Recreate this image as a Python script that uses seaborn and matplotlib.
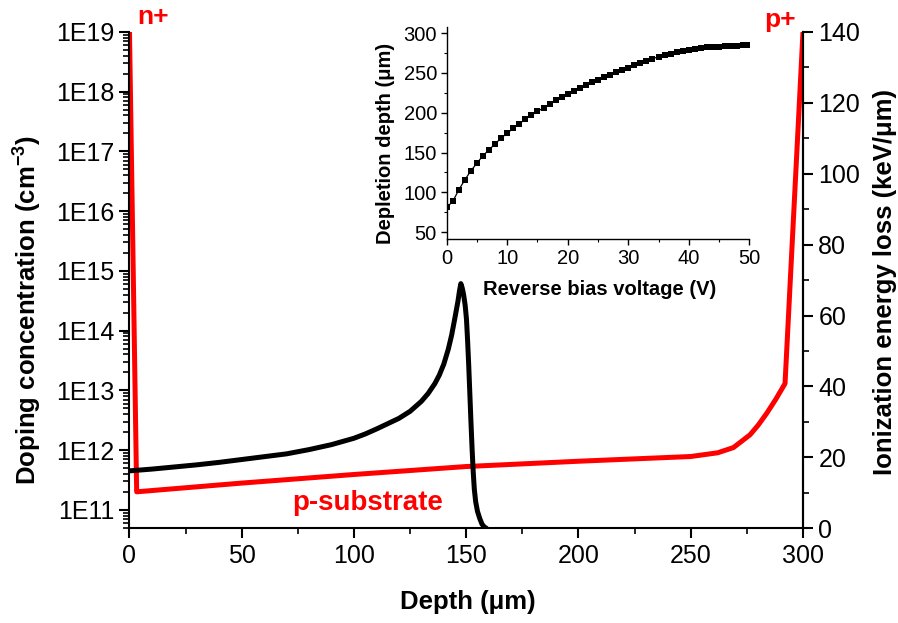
import numpy as np
import pandas as pd
import matplotlib
matplotlib.use("Agg")
import matplotlib.pyplot as plt
import seaborn as sns
from matplotlib.ticker import FixedLocator, MultipleLocator, FuncFormatter, NullFormatter

# ------------------------------------------------------------
# DATA
# ------------------------------------------------------------

# doping profile (red, left log axis)
doping_depth = [0, 3.2, 50, 100, 150, 200, 250, 262, 269, 276.4, 280, 283.8, 288, 292, 300]
doping_conc = [1e19, 2.0e11, 2.8e11, 3.9e11, 5.3e11, 6.5e11, 7.8e11, 9.0e11, 1.1e12,
               1.8e12, 2.6e12, 4.1e12, 7.2e12, 1.3e13, 1e19]

# ionization energy loss / Bragg curve (black, right axis)
loss_depth = [0, 10, 20, 30, 40, 50, 60, 70, 80, 90, 100, 105, 110, 115, 120, 125,
              130, 133, 136, 138, 140, 142, 143.5, 145, 146.3, 147, 147.6,
              148.2, 148.8, 149.5, 150.1, 150.6, 151.1, 151.6, 152.1, 152.6, 153.1,
              153.6, 154.2, 155, 156, 157, 158, 159]
loss_value = [16.2, 16.7, 17.3, 17.9, 18.6, 19.4, 20.2, 21.0, 22.2, 23.6, 25.4, 26.6,
              28.0, 29.5, 31.0, 33.0, 35.8, 38.0, 40.8, 43.2, 46.3, 50.5, 54.5, 59.5,
              64.0, 67.0, 69.0,
              67.8, 66.0, 63.0, 59.0, 53.0, 46.0, 38.0, 30.0, 22.5, 16.0,
              11.0, 7.5, 4.8, 2.8, 1.2, 0.4, 0]

# inset: depletion depth vs reverse bias voltage
bias_voltage = list(range(0, 51))
depletion_depth = [81, 88.5, 103, 115.7, 127, 136.7, 146, 153.4, 161, 168,
                   174.4, 180.2, 186, 192, 196.6, 201.6, 206.2, 210.8, 215.4, 219.6,
                   223.8, 227.1, 230.9, 234.7, 238, 241.4, 244.3, 247.7, 250.6, 253.5,
                   256.4, 259.4, 262.3, 264.8, 267.8, 270.3, 272.4, 274, 276.1, 277.8,
                   279.1, 279.9, 281.2, 282, 282.4, 282.8, 283.3, 283.7, 284.1, 284.5,
                   284.9]

doping_df = pd.DataFrame({"depth": doping_depth, "conc": doping_conc})
loss_df = pd.DataFrame({"depth": loss_depth, "loss": loss_value})
inset_df = pd.DataFrame({"V": bias_voltage, "W": depletion_depth})

# ------------------------------------------------------------
# STYLE
# ------------------------------------------------------------

sns.set_style("ticks")
plt.rcParams["font.family"] = ["Liberation Sans", "DejaVu Sans"]
plt.rcParams["mathtext.fontset"] = "custom"
plt.rcParams["mathtext.rm"] = "Liberation Sans"
plt.rcParams["mathtext.bf"] = "Liberation Sans:bold"
for key in ("text.color", "axes.labelcolor", "xtick.color", "ytick.color", "axes.edgecolor"):
    plt.rcParams[key] = "black"

RED = "#ff0000"

fig = plt.figure(figsize=(8.98, 6.23), dpi=100)
ax = fig.add_axes([0.1442, 0.152, 0.75, 0.7968])

decades = [10.0 ** e for e in range(11, 20)]
minor_log = [m * 10.0 ** e for e in range(10, 19) for m in range(2, 10)]

# red doping profile on the log axis
sns.lineplot(data=doping_df, x="depth", y="conc", ax=ax, color=RED,
             linewidth=3.6, sort=False, estimator=None)
ax.set_yscale("log")
ax.set_xlim(0, 300)
ax.set_ylim(4.9e10, 1e19)
ax.xaxis.set_major_locator(MultipleLocator(50))
ax.xaxis.set_minor_locator(MultipleLocator(25))
ax.yaxis.set_major_locator(FixedLocator(decades))
ax.yaxis.set_minor_locator(FixedLocator(minor_log))
ax.yaxis.set_minor_formatter(NullFormatter())
ax.yaxis.set_major_formatter(FuncFormatter(lambda v, p: f"1E{int(round(np.log10(v)))}"))

# black energy loss curve on the twin axis
ax2 = ax.twinx()
sns.lineplot(data=loss_df, x="depth", y="loss", ax=ax2, color="black",
             linewidth=3.6, sort=False, estimator=None)
ax2.set_ylim(0, 140)
ax2.yaxis.set_major_locator(MultipleLocator(20))
ax2.yaxis.set_minor_locator(MultipleLocator(10))

for a in (ax, ax2):
    a.spines["top"].set_visible(False)
    for s in a.spines.values():
        s.set_linewidth(1.5)
    a.tick_params(which="major", direction="out", length=7, width=1.5,
                  labelsize=18, pad=4, colors="black")
    a.tick_params(which="minor", direction="out", length=4.5, width=1.2, color="black")
ax2.spines["left"].set_visible(False)
ax2.spines["bottom"].set_visible(False)

ax.set_xlabel("Depth (\u03bcm)", fontsize=18.5, fontweight="bold")
ax.set_ylabel(r"Doping concentration (cm$^{\mathbf{-3}}$)", fontsize=18.5, fontweight="bold")
ax2.set_ylabel("Ionization energy loss (keV/\u03bcm)", fontsize=18.5, fontweight="bold")
ax.xaxis.set_label_coords(0.502, -0.125)
ax.yaxis.set_label_coords(-0.128, 0.44)
ax2.yaxis.set_label_coords(1.104, 0.496)

ax.text(0.012, 1.005, "n+", transform=ax.transAxes, color=RED,
        fontsize=19, fontweight="bold", ha="left", va="bottom")
ax.text(0.99, 1.0, "p+", transform=ax.transAxes, color=RED,
        fontsize=19, fontweight="bold", ha="right", va="bottom")
ax.text(0.354, 0.05, "p-substrate", transform=ax.transAxes, color=RED,
        fontsize=20, fontweight="bold", ha="center", va="center")

# ------------------------------------------------------------
# INSET
# ------------------------------------------------------------

axi = fig.add_axes([0.4974, 0.6159, 0.337, 0.3412])
axi.patch.set_alpha(0)
sns.lineplot(data=inset_df, x="V", y="W", ax=axi, color="black", linewidth=0.9,
             marker="s", markersize=4, markeredgewidth=0, estimator=None)
axi.set_xlim(0, 50)
axi.set_ylim(41, 308)
axi.xaxis.set_major_locator(MultipleLocator(10))
axi.xaxis.set_minor_locator(MultipleLocator(5))
axi.yaxis.set_major_locator(FixedLocator([50, 100, 150, 200, 250, 300]))
axi.yaxis.set_minor_locator(FixedLocator([75, 125, 175, 225, 275]))
axi.spines["top"].set_visible(False)
axi.spines["right"].set_visible(False)
for s in axi.spines.values():
    s.set_linewidth(1.0)
axi.tick_params(which="major", direction="out", length=4, width=1.0, labelsize=14.5, pad=3)
axi.tick_params(which="minor", direction="out", length=2.5, width=0.8)
axi.set_xlabel("Reverse bias voltage (V)", fontsize=14.5, fontweight="bold")
axi.set_ylabel("Depletion depth (\u03bcm)", fontsize=14.5, fontweight="bold")
axi.xaxis.set_label_coords(0.505, -0.19)
axi.yaxis.set_label_coords(-0.171, 0.45)

fig.savefig("out.png", dpi=100)
